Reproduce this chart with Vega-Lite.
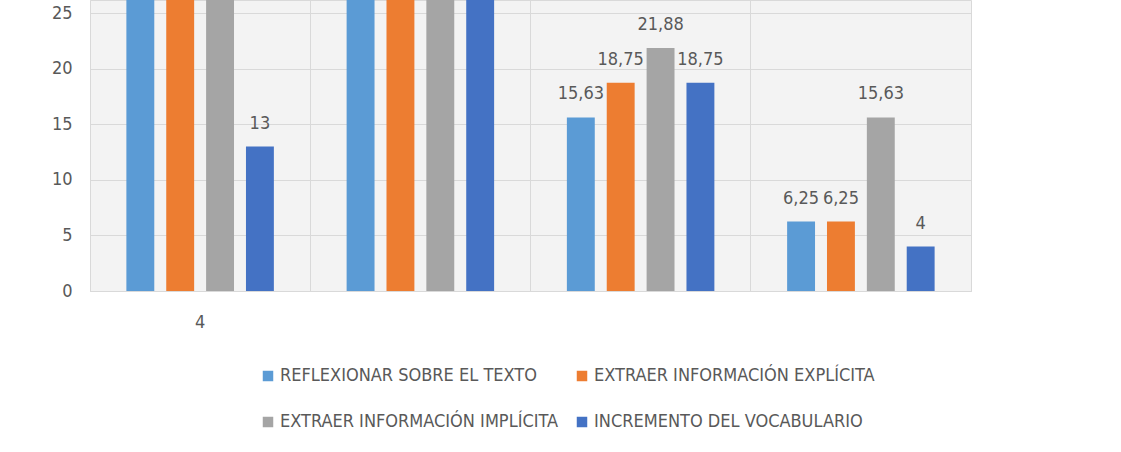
{
  "$schema": "https://vega.github.io/schema/vega-lite/v6.json",
  "width": 881,
  "height": 291,
  "autosize": {"type": "none"},
  "padding": {"left": 90, "top": 0, "right": 150, "bottom": 161},
  "background": "white",
  "config": {
    "font": "DejaVu Sans Condensed, Roboto, sans-serif",
    "locale": {"number": {"decimal": ",", "thousands": ".", "grouping": [3], "currency": ["", " €"]}},
    "view": {"stroke": "#d9d9d9", "fill": "#f3f3f3"},
    "axis": {"labelFont": "DejaVu Sans Condensed, Roboto, sans-serif", "labelColor": "#595959", "labelFontSize": 18, "gridColor": "#d9d9d9", "ticks": false, "title": null},
    "legend": {"labelFont": "DejaVu Sans Condensed, Roboto, sans-serif"}
  },
  "data": {
    "values": [
      {"grupo": "4", "categoria": "REFLEXIONAR SOBRE EL TEXTO", "valor": 35},
      {"grupo": "4", "categoria": "EXTRAER INFORMACIÓN EXPLÍCITA", "valor": 35},
      {"grupo": "4", "categoria": "EXTRAER INFORMACIÓN IMPLÍCITA", "valor": 39},
      {"grupo": "4", "categoria": "INCREMENTO DEL VOCABULARIO", "valor": 13},
      {"grupo": "5", "categoria": "REFLEXIONAR SOBRE EL TEXTO", "valor": 35},
      {"grupo": "5", "categoria": "EXTRAER INFORMACIÓN EXPLÍCITA", "valor": 39},
      {"grupo": "5", "categoria": "EXTRAER INFORMACIÓN IMPLÍCITA", "valor": 39},
      {"grupo": "5", "categoria": "INCREMENTO DEL VOCABULARIO", "valor": 30},
      {"grupo": "6", "categoria": "REFLEXIONAR SOBRE EL TEXTO", "valor": 15.63},
      {"grupo": "6", "categoria": "EXTRAER INFORMACIÓN EXPLÍCITA", "valor": 18.75},
      {"grupo": "6", "categoria": "EXTRAER INFORMACIÓN IMPLÍCITA", "valor": 21.88},
      {"grupo": "6", "categoria": "INCREMENTO DEL VOCABULARIO", "valor": 18.75},
      {"grupo": "7", "categoria": "REFLEXIONAR SOBRE EL TEXTO", "valor": 6.25},
      {"grupo": "7", "categoria": "EXTRAER INFORMACIÓN EXPLÍCITA", "valor": 6.25},
      {"grupo": "7", "categoria": "EXTRAER INFORMACIÓN IMPLÍCITA", "valor": 15.63},
      {"grupo": "7", "categoria": "INCREMENTO DEL VOCABULARIO", "valor": 4}
    ]
  },
  "encoding": {
    "x": {
      "field": "grupo", "type": "nominal", "sort": null,
      "scale": {"paddingInner": 0, "paddingOuter": 0},
      "axis": {"labelAngle": 0, "labelPadding": 22, "domainColor": "#d9d9d9", "grid": true, "bandPosition": 0,
               "labelExpr": "datum.value == '4' ? '4' : ''"}
    },
    "xOffset": {
      "field": "categoria", "type": "nominal", "sort": null,
      "scale": {"paddingInner": 0.3, "paddingOuter": 0.9125}
    },
    "y": {
      "field": "valor", "type": "quantitative",
      "scale": {"domain": [0, 26.2], "nice": false},
      "axis": {"values": [0, 5, 10, 15, 20, 25], "domain": false, "labelPadding": 18, "grid": true}
    }
  },
  "layer": [
    {
      "mark": {"type": "bar", "clip": true},
      "encoding": {
        "color": {
          "field": "categoria", "type": "nominal", "sort": null,
          "scale": {
            "domain": ["REFLEXIONAR SOBRE EL TEXTO", "EXTRAER INFORMACIÓN EXPLÍCITA", "EXTRAER INFORMACIÓN IMPLÍCITA", "INCREMENTO DEL VOCABULARIO"],
            "range": ["#5b9bd5", "#ed7d31", "#a5a5a5", "#4472c4"]
          },
          "legend": {
            "title": null, "orient": "none", "legendX": 169, "legendY": 367,
            "direction": "horizontal", "columns": 2, "columnPadding": 14, "rowPadding": 28,
            "symbolType": "square", "symbolSize": 110, "symbolStrokeWidth": 0,
            "labelFontSize": 18, "labelColor": "#595959", "labelOffset": 3, "labelLimit": 400
          }
        }
      }
    },
    {
      "transform": [{"filter": "datum.valor < 26"}],
      "mark": {"type": "text", "baseline": "alphabetic", "dy": -18, "fontSize": 18, "color": "#595959", "font": "DejaVu Sans Condensed, Roboto, sans-serif"},
      "encoding": {
        "text": {"field": "valor", "type": "quantitative", "format": ".2~f"}
      }
    }
  ]
}
